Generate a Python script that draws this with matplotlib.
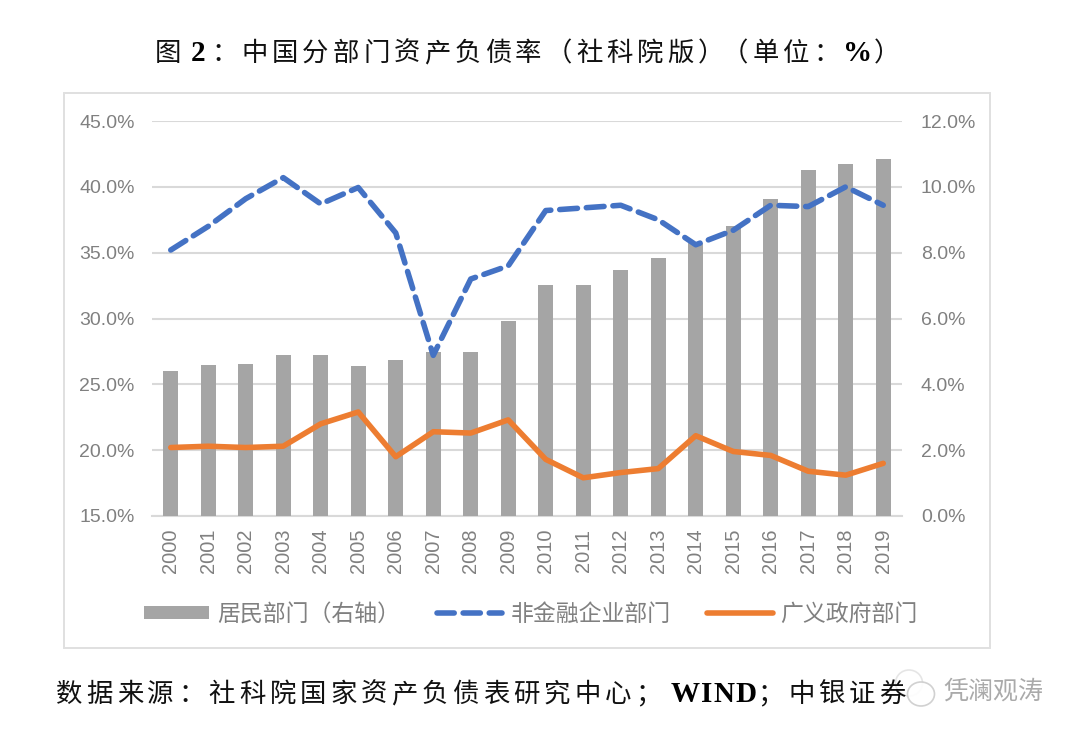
import matplotlib
matplotlib.use("Agg")
import matplotlib.pyplot as plt
from matplotlib.patches import Rectangle, Ellipse
from matplotlib.lines import Line2D
from matplotlib.patches import Patch

CJK = "Noto Sans CJK SC"
plt.rcParams["font.family"] = ["Liberation Sans", CJK, "DejaVu Sans"]

years = [str(y) for y in range(2000, 2020)]
households = [4.41, 4.59, 4.62, 4.89, 4.89, 4.56, 4.74, 4.98, 4.98, 5.92,
              7.02, 7.02, 7.47, 7.84, 8.30, 8.80, 9.63, 10.50, 10.70, 10.85]
nonfin = [35.2, 37.0, 39.1, 40.7, 38.7, 39.95, 36.5, 27.2, 33.0, 34.0,
          38.2, 38.4, 38.6, 37.5, 35.6, 36.7, 38.6, 38.5, 40.0, 38.6]
gov = [20.2, 20.3, 20.2, 20.3, 22.0, 22.9, 19.5, 21.4, 21.3, 22.3,
       19.3, 17.9, 18.3, 18.6, 21.1, 19.9, 19.6, 18.4, 18.1, 19.0]
left_ticks = [15, 20, 25, 30, 35, 40, 45]
right_ticks = [0, 2, 4, 6, 8, 10, 12]
series_names = ["居民部门（右轴）", "非金融企业部门", "广义政府部门"]
title_runs = [("图", 0), (" 2 ", 1), ("：", 0), ("中国分部门资产负债率（社科院版）（单位：", 0), ("%", 1), ("）", 0)]
source_runs = [("数据来源：社科院国家资产负债表研究中心；", 0), (" WIND", 1), ("；中银证券", 0)]
watermark = "凭澜观涛"

W, H = 1080, 737
fig = plt.figure(figsize=(W / 100, H / 100), dpi=100, facecolor="white")
GRID = "#d9d9d9"
TXT = "#808080"

fig.add_artist(Rectangle((64 / W, 1 - 648 / H), 926 / W, 555 / H, transform=fig.transFigure,
                         fc="white", ec="#e0e0e0", lw=1.4))

L, R, T, B = 152, 902, 121, 516
ax2 = fig.add_axes([L / W, 1 - B / H, (R - L) / W, (B - T) / H])
ax = ax2.twinx()
ax2.set_zorder(1)
ax.set_zorder(2)
ax.patch.set_visible(False)
ax2.patch.set_visible(False)

x = list(range(len(years)))
ax2.bar(x, households, width=0.4, color="#a5a5a5", zorder=3)
ax2.yaxis.tick_right()
ax.yaxis.tick_left()
ax2.set_ylim(0, 12)
ax2.set_yticks(right_ticks)
ax2.set_yticklabels([f"{v:.1f}%" for v in right_ticks])
ax2.grid(axis="y", color=GRID, lw=1.5, zorder=0)
ax2.set_axisbelow(True)

ax.set_ylim(15, 45)
ax.set_yticks(left_ticks)
ax.set_yticklabels([f"{v:.1f}%" for v in left_ticks])
ax.plot(x, nonfin, color="#4472c4", lw=4, ls=(0, (3.2, 1.6)), dash_capstyle="round", zorder=4)
ax.plot(x, gov, color="#ed7d31", lw=4, solid_capstyle="round", solid_joinstyle="round", zorder=5)

ax2.set_xlim(-0.5, len(years) - 0.5)
ax2.set_xticks([i - 0.5 for i in range(len(years) + 1)])
ax2.set_xticklabels([])
ax2.set_xticks(x, minor=True)
ax2.set_xticklabels(years, minor=True, rotation=90, color=TXT, fontsize=14.4)
ax2.tick_params(axis="x", which="major", length=5, width=1.3, color=GRID)
ax2.tick_params(axis="x", which="minor", length=0, pad=9)
for a in (ax, ax2):
    for s in a.spines.values():
        s.set_visible(False)
ax2.spines["bottom"].set_visible(True)
ax2.spines["bottom"].set_color(GRID)
ax2.spines["bottom"].set_linewidth(1.5)
ax2.tick_params(axis="y", length=0, labelsize=14, labelcolor=TXT, pad=13.5)
ax.tick_params(axis="y", length=0, labelsize=14, labelcolor=TXT, pad=12.5)
ax.set_xticks([])

handles = [Patch(fc="#a5a5a5", ec="none"),
           Line2D([], [], color="#4472c4", lw=4, ls=(0, (3.1, 1.6)), dash_capstyle="round"),
           Line2D([], [], color="#ed7d31", lw=4, solid_capstyle="round")]
fig.legend(handles, series_names, loc="center", bbox_to_anchor=(531 / W, 1 - 614 / H), ncol=3,
           frameon=False, labelcolor=TXT, handlelength=2.85, handleheight=0.5,
           handletextpad=0.35, columnspacing=1.6, prop={"family": [CJK], "size": 16.5})

renderer = fig.canvas.get_renderer()


def draw_runs(x0, y0, runs, size, bold_size, pitch):
    cur = x0
    prev = ""
    for text, bold in runs:
        for ch in text:
            if ch == " ":
                cur += 5
                continue
            if ch == "（" and prev == "）":
                cur -= 6
            if bold:
                t = fig.text(cur / W, 1 - y0 / H, ch, family="Liberation Serif", weight="bold",
                             fontsize=bold_size, color="black", va="baseline", ha="left")
                cur += t.get_window_extent(renderer).width + 1
            else:
                fig.text(cur / W, 1 - y0 / H, ch, family=[CJK], fontsize=size, color="#111111",
                         va="baseline", ha="left")
                cur += pitch
            prev = ch


draw_runs(155, 61, title_runs, 19, 21, 30.4)
draw_runs(56, 702, source_runs, 19, 21, 30.5)

fig.add_artist(Ellipse((909 / W, 1 - 683 / H), 27 / W, 26 / H, transform=fig.transFigure,
                       fc="#ffffff", ec="#dddddd", lw=1.2, alpha=0.75))
fig.add_artist(Ellipse((921 / W, 1 - 694 / H), 27 / W, 24 / H, transform=fig.transFigure,
                       fc="#ffffff", ec="#cccccc", lw=1.2, alpha=0.9))
fig.text(943 / W, 1 - 699 / H, watermark, family=[CJK], fontsize=18, color="#aaaaaa",
         va="baseline", ha="left")

fig.savefig("out.png", dpi=100)
